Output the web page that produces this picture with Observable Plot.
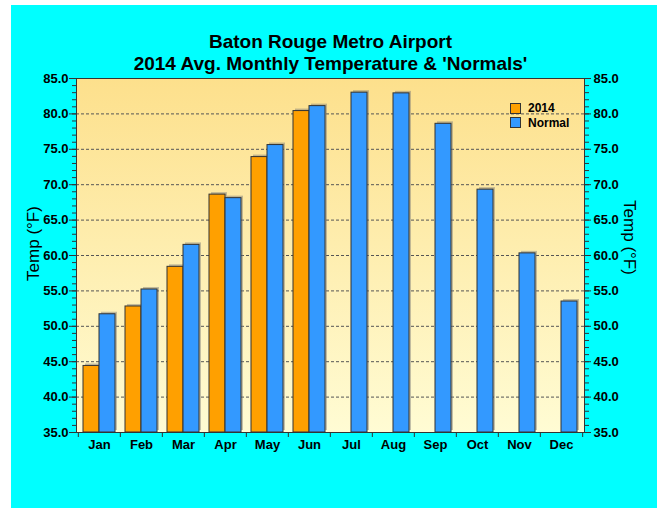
<!DOCTYPE html>
<html><head><meta charset="utf-8">
<script src="https://cdn.jsdelivr.net/npm/d3@7"></script>
<script src="https://cdn.jsdelivr.net/npm/@observablehq/plot@0.6"></script>
<style>
html,body{margin:0;padding:0;background:#fff;}
#wrap{position:absolute;left:11px;top:5px;width:646px;height:503px;background:#00FFFF;font-family:"Liberation Sans",Arial,sans-serif;}
#legend{position:absolute;left:499px;top:96px;font-weight:bold;font-size:12px;color:#000;}
.row{display:flex;align-items:center;height:14.4px;}
.sw{width:9px;height:9px;border:1px solid #333;margin-right:7px;}
</style></head><body><div id="wrap"><div id="legend"></div></div>
<script>
const titleLines = ["Baton Rouge Metro Airport", "2014 Avg. Monthly Temperature & 'Normals'"];
const axisLabel = "Temp (°F)";
const months = ["Jan","Feb","Mar","Apr","May","Jun","Jul","Aug","Sep","Oct","Nov","Dec"];
const series = ["2014", "Normal"];
const colors = ["#FFA000", "#3399FF"];
const values2014 = [44.4, 52.8, 58.4, 68.6, 73.9, 80.4];
const valuesNormal = [51.7, 55.2, 61.5, 68.1, 75.6, 81.1, 83.0, 82.9, 78.6, 69.3, 60.3, 53.5];
const yMin = 35, yMax = 85;
const yMajorTicks = [35, 40, 45, 50, 55, 60, 65, 70, 75, 80, 85];
const yMinorTicks = d3.range(35, 86, 1);

const rows2014 = values2014.map((v, i) => ({month: months[i], series: series[0], value: v}));
const rowsNormal = valuesNormal.map((v, i) => ({month: months[i], series: series[1], value: v}));

const W = 646, H = 503, mL = 65, mR = 73, mT = 73, mB = 76;
const bw = (W - mL - mR) / months.length;
const font = "'Liberation Sans', Arial, sans-serif";
const barOpts = {x: "month", y1: yMin, y2: "value"};
const ins2014 = {insetLeft: 5, insetRight: 21};
const insNormal = {insetLeft: 21, insetRight: 5};

const plot = Plot.plot({
  width: W, height: H,
  marginLeft: mL, marginRight: mR, marginTop: mT, marginBottom: mB,
  style: {background: "transparent", fontFamily: font, overflow: "visible", color: "#000"},
  x: {domain: months, padding: 0},
  y: {domain: [yMin, yMax]},
  marks: [
    Plot.frame({fill: "url(#bgGrad)"}),
    Plot.ruleY(yMajorTicks, {stroke: "#555", strokeDasharray: "3,2", strokeWidth: 1}),
    Plot.barY(rows2014, {...barOpts, ...ins2014, fill: "#777", fillOpacity: 0.45, dx: 2, dy: -2}),
    Plot.barY(rowsNormal, {...barOpts, ...insNormal, fill: "#777", fillOpacity: 0.45, dx: 2, dy: -2}),
    Plot.barY(rows2014, {...barOpts, ...ins2014, fill: colors[0], stroke: "#333", strokeWidth: 1}),
    Plot.barY(rowsNormal, {...barOpts, ...insNormal, fill: colors[1], stroke: "#333", strokeWidth: 1}),
    Plot.frame({stroke: "#333"}),
    Plot.axisX({tickSize: 0, tickPadding: 7, fontSize: 13, fontWeight: "bold", label: null}),
    Plot.axisX({tickSize: 5, fill: "none", dx: -bw / 2, stroke: "#333", label: null}),
    Plot.axisX([months[months.length - 1]], {tickSize: 5, fill: "none", dx: bw / 2, stroke: "#333", label: null}),
    Plot.axisY(yMinorTicks, {anchor: "left", tickSize: 4, fill: "none", stroke: "#333", label: null}),
    Plot.axisY(yMajorTicks, {anchor: "left", tickSize: 7, tickPadding: 1, tickFormat: d => d.toFixed(1), fontSize: 13, fontWeight: "bold", stroke: "#333", label: null}),
    Plot.axisY(yMinorTicks, {anchor: "right", tickSize: 4, fill: "none", stroke: "#333", label: null}),
    Plot.axisY(yMajorTicks, {anchor: "right", tickSize: 6, tickPadding: 3, tickFormat: d => d.toFixed(1), fontSize: 13, fontWeight: "bold", stroke: "#333", label: null}),
    Plot.text([axisLabel], {text: d => d, frameAnchor: "left", textAnchor: "middle", lineAnchor: "middle", dx: -43, dy: -12, rotate: -90, fontSize: 17, fill: "#000"}),
    Plot.text([axisLabel], {text: d => d, frameAnchor: "right", textAnchor: "middle", lineAnchor: "middle", dx: 45, dy: -18, rotate: 90, fontSize: 17, fill: "#000"}),
    Plot.text([titleLines.join("\n")], {text: d => d, frameAnchor: "top", lineAnchor: "top", dy: -46, lineHeight: 1.16, fontSize: 19, fontWeight: "bold", fill: "#000"})
  ]
});

const defs = d3.select(plot).insert("defs", ":first-child");
const grad = defs.append("linearGradient").attr("id", "bgGrad").attr("x1", 0).attr("y1", 0).attr("x2", 0).attr("y2", 1);
grad.append("stop").attr("offset", "0%").attr("stop-color", "#FDE08C");
grad.append("stop").attr("offset", "100%").attr("stop-color", "#FFFCD4");

document.getElementById("wrap").appendChild(plot);

const legend = document.getElementById("legend");
series.forEach((s, i) => {
  const row = document.createElement("div");
  row.className = "row";
  const sw = document.createElement("span");
  sw.className = "sw";
  sw.style.background = colors[i];
  const t = document.createElement("span");
  t.textContent = s;
  row.appendChild(sw); row.appendChild(t);
  legend.appendChild(row);
});
</script></body></html>
